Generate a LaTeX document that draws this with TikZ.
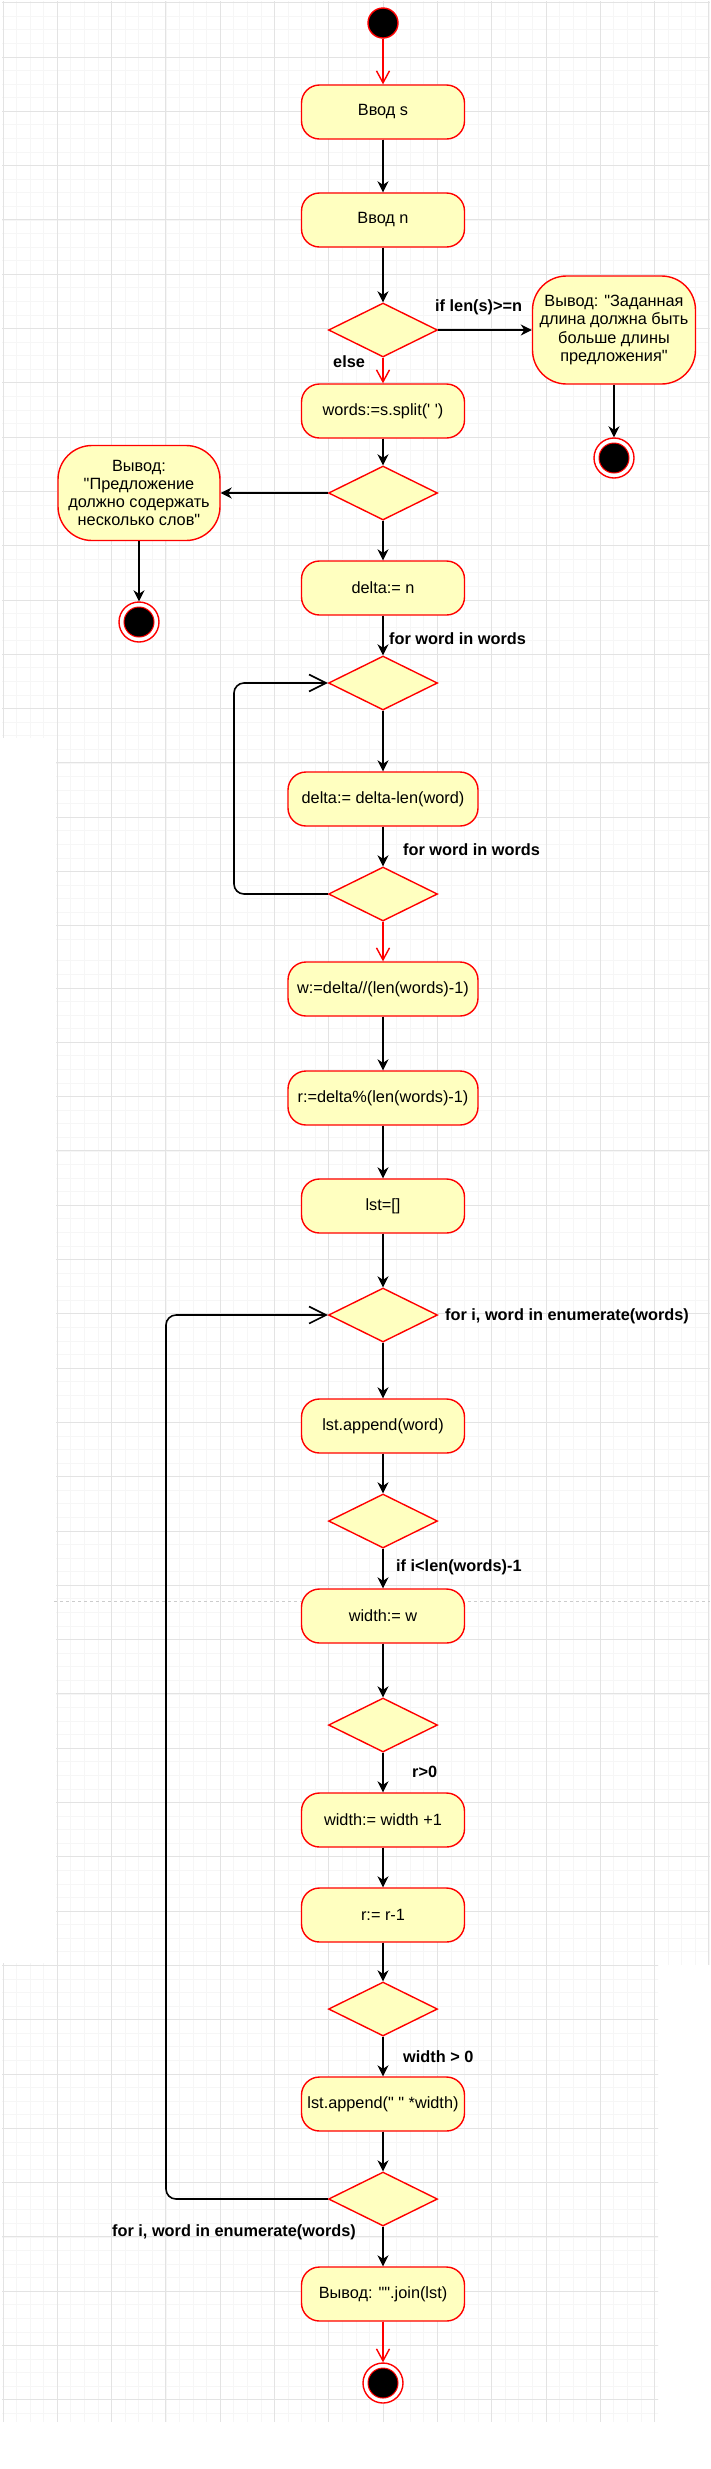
\documentclass[tikz,border=0pt]{standalone}
\usepackage{fontspec}
\newfontfamily\diagfont{Liberation Sans}
\usetikzlibrary{shapes.geometric, arrows.meta}

\definecolor{actfill}{HTML}{FFFFC0}
\definecolor{actline}{HTML}{FF0000}

\begin{document}
\begin{tikzpicture}[x=1pt, y=-1pt,
        font=\diagfont\fontsize{16.3}{18.3}\selectfont,
        act/.style={draw=actline, fill=actfill, line width=1.4pt, rounded corners=18pt,
            minimum width=163pt, minimum height=54pt, align=center, inner sep=2pt},
        wideact/.style={act, minimum width=190pt},
        msgbox/.style={act, rounded corners=34pt, inner sep=4pt},
        cond/.style={diamond, draw=actline, fill=actfill, line width=1.4pt,
            minimum width=109pt, minimum height=54pt, inner sep=0pt},
        startdot/.style={circle, draw=actline, fill=black, line width=1.4pt, minimum size=30pt, inner sep=0pt},
        endring/.style={circle, draw=actline, fill=white, line width=1.4pt, minimum size=40pt, inner sep=0pt},
        enddot/.style={circle, draw=actline, fill=black, line width=1pt, minimum size=30pt, inner sep=0pt},
        lbl/.style={font=\diagfont\bfseries\fontsize{16.3}{18.3}\selectfont, inner sep=0pt, anchor=west},
        flow/.style={-{Stealth[length=11pt, width=11pt, inset=3.5pt]}, line width=1.6pt, black},
        redflow/.style={-{Straight Barb[length=12pt, width=13pt]}, line width=1.4pt, actline},
        loopflow/.style={-{Straight Barb[length=17pt, width=17pt]}, line width=1.6pt, black, rounded corners=10pt},
        gridminor/.style={draw=gray!7, line width=0.8pt},
        gridmajor/.style={draw=gray!22, line width=1pt}]
        \useasboundingbox (0,0) rectangle (710,2469);
        \fill[white] (0,0) rectangle (710,2469);

        % Background grid
        \foreach \xa/\ya/\xb/\yb/\oy in {3/2.7/710/737/2.7, 57/737/710/950/2.7, 57/950/710/1964/10.6, 3/1964/657/2421/10.6}{
            \begin{scope}
                \clip ({\xa-1},{\ya-1}) rectangle ({\xb+1},\yb);
                \foreach \k in {0,...,52} \draw[gridminor] ({3+13.575*\k},0) -- ({3+13.575*\k},2469);
                \foreach \k in {0,...,181} \draw[gridminor] (0,{\oy+13.575*\k}) -- (710,{\oy+13.575*\k});
                \foreach \k in {0,...,13} \draw[gridmajor] ({3+54.3*\k},0) -- ({3+54.3*\k},2469);
                \foreach \k in {0,...,45} \draw[gridmajor] (0,{\oy+54.3*\k}) -- (710,{\oy+54.3*\k});
            \end{scope}
        }
        \draw[gray!40, dashed, line width=1pt] (54,1601) -- (710,1601);

        % Nodes
        \node[startdot] (start) at (383,23) {};
        \node[act] (inS) at (383,112) {Ввод s};
        \node[act] (inN) at (383,220) {Ввод n};
        \node[cond] (chkLen) at (383,330) {};
        \node[msgbox, minimum height=108pt] (msgLen) at (614,330) {Вывод: "Заданная\\длина должна быть\\больше длины\\предложения"};
        \node[endring] (endLen) at (614,458) {};
        \node[enddot] (endLenDot) at (endLen) {};
        \node[act] (split) at (383,411) {words:=s.split(' ')};
        \node[cond] (chkWords) at (383,493) {};
        \node[msgbox, minimum width=162pt, minimum height=95pt] (msgWords) at (139,493) {Вывод:\\"Предложение\\должно содержать\\несколько слов"};
        \node[endring] (endWords) at (139,622) {};
        \node[enddot] (endWordsDot) at (endWords) {};
        \node[act] (delta) at (383,588) {delta:= n};
        \node[cond] (forA) at (383,683) {};
        \node[wideact] (deltaLen) at (383,799) {delta:= delta-len(word)};
        \node[cond] (forB) at (383,894) {};
        \node[wideact] (wDiv) at (383,989) {w:=delta//(len(words)-1)};
        \node[wideact] (rMod) at (383,1098) {r:=delta\%(len(words)-1)};
        \node[act] (lstInit) at (383,1206) {lst=[]};
        \node[cond] (forC) at (383,1315) {};
        \node[act] (appWord) at (383,1426) {lst.append(word)};
        \node[cond] (chkLast) at (383,1521) {};
        \node[act] (widthW) at (383,1616) {width:= w};
        \node[cond] (chkR) at (383,1725) {};
        \node[act] (widthInc) at (383,1820) {width:= width +1};
        \node[act] (rDec) at (383,1915) {r:= r-1};
        \node[cond] (chkWidth) at (383,2009) {};
        \node[act] (appSpace) at (383,2104) {lst.append(" " *width)};
        \node[cond] (forD) at (383,2199) {};
        \node[act] (outJoin) at (383,2294) {Вывод: "".join(lst)};
        \node[endring] (endMain) at (383,2383) {};
        \node[enddot] (endMainDot) at (endMain) {};

        % Labels
        \node[lbl] (lblLen) at (435,307) {if len(s)>=n};
        \node[lbl] (lblElse) at (333,362) {else};
        \node[lbl] (lblForA) at (389,639) {for word in words};
        \node[lbl] (lblForB) at (403,850) {for word in words};
        \node[lbl] (lblForC) at (445,1316) {for i, word in enumerate(words)};
        \node[lbl] (lblLast) at (396,1567) {if i<len(words)-1};
        \node[lbl] (lblR) at (412,1772) {r>0};
        \node[lbl] (lblWidth) at (403,2057) {width > 0};
        \node[lbl] (lblForD) at (112,2232) {for i, word in enumerate(words)};

        % Connectors
        \coordinate (loopInner) at (234,0);
        \coordinate (loopOuter) at (166,0);
        \draw[redflow] (start) -- (inS);
        \draw[flow] (inS) -- (inN);
        \draw[flow] (inN) -- (chkLen);
        \draw[flow] (chkLen.east) -- (msgLen.west);
        \draw[redflow] (chkLen.south) -- (split.north);
        \draw[flow] (msgLen.south) -- (endLen.north);
        \draw[flow] (split) -- (chkWords);
        \draw[flow] (chkWords.west) -- (msgWords.east);
        \draw[flow] (msgWords.south) -- (endWords.north);
        \draw[flow] (chkWords.south) -- (delta.north);
        \draw[flow] (delta) -- (forA);
        \draw[flow] (forA.south) -- (deltaLen.north);
        \draw[flow] (deltaLen) -- (forB);
        \draw[loopflow] (forB.west) -- (forB.west -| loopInner) -- (forA.west -| loopInner) -- (forA.west);
        \draw[redflow] (forB.south) -- (wDiv.north);
        \draw[flow] (wDiv) -- (rMod);
        \draw[flow] (rMod) -- (lstInit);
        \draw[flow] (lstInit) -- (forC);
        \draw[flow] (forC.south) -- (appWord.north);
        \draw[flow] (appWord) -- (chkLast);
        \draw[flow] (chkLast.south) -- (widthW.north);
        \draw[flow] (widthW) -- (chkR);
        \draw[flow] (chkR.south) -- (widthInc.north);
        \draw[flow] (widthInc) -- (rDec);
        \draw[flow] (rDec) -- (chkWidth);
        \draw[flow] (chkWidth.south) -- (appSpace.north);
        \draw[flow] (appSpace) -- (forD);
        \draw[loopflow] (forD.west) -- (forD.west -| loopOuter) -- (forC.west -| loopOuter) -- (forC.west);
        \draw[flow] (forD.south) -- (outJoin.north);
        \draw[redflow] (outJoin.south) -- (endMain.north);
    \end{tikzpicture}
\end{document}
